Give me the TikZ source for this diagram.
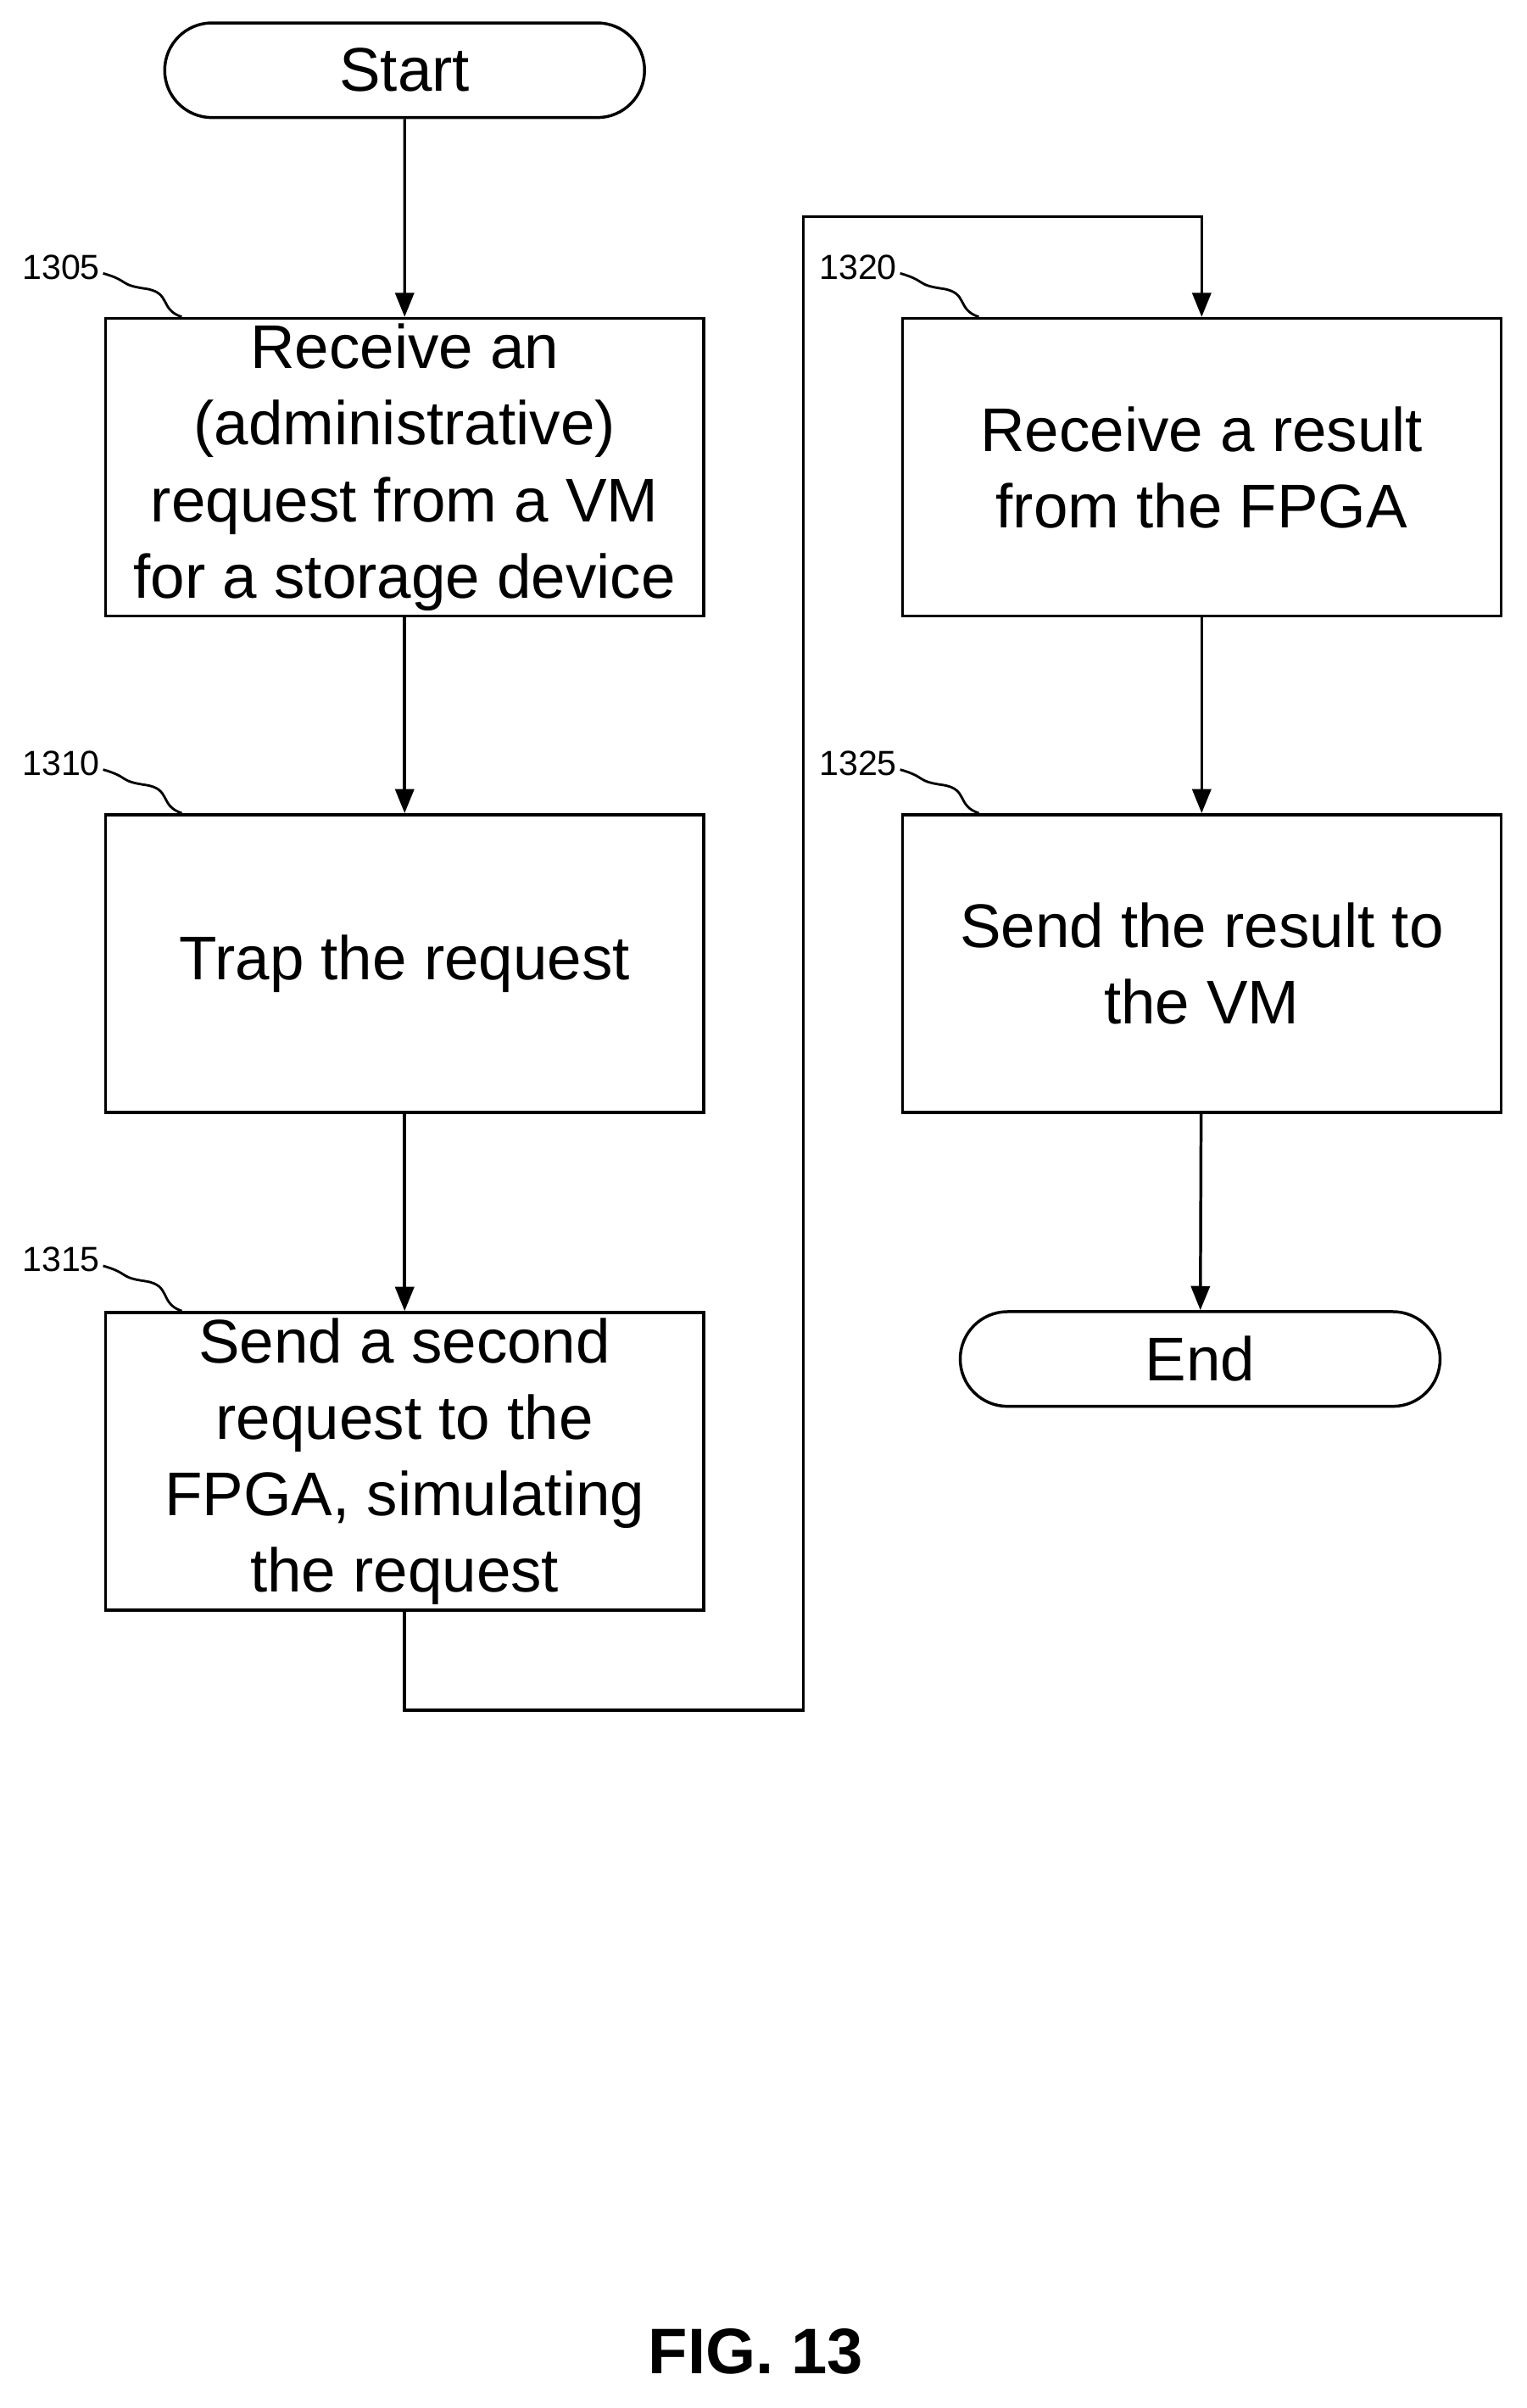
\documentclass[tikz,border=0pt]{standalone}
\usepackage{fontspec}
\setmainfont{Liberation Sans}
\usetikzlibrary{arrows.meta,positioning,calc,shapes.misc}

\tikzset{
  box/.style={draw, line width=1.1pt, minimum width=7.84cm, minimum height=3.9cm,
    align=center, font=\fontsize{23}{28.5}\selectfont, inner sep=2pt},
  term/.style={draw, line width=1.1pt, rounded rectangle, minimum width=6.52cm,
    minimum height=1.24cm, font=\fontsize{23}{28.5}\selectfont},
  num/.style={font=\fontsize{13}{15}\selectfont, inner sep=1pt},
  flow/.style={line width=1.1pt, -{Triangle[length=9pt,width=7pt]}},
  wave/.style={line width=0.9pt}
}

\begin{document}
\begin{tikzpicture}
\useasboundingbox (0,0) rectangle (20,-31.54);

% left column
\node[term] (start) at (5.3,-0.92) {Start};
\node[box] (s1305) at (5.3,-6.12) {Receive an\\(administrative)\\request from a VM\\for a storage device};
\node[box] (s1310) at (5.3,-12.62) {Trap the request};
\node[box] (s1315) at (5.3,-19.14) {Send a second\\request to the\\FPGA, simulating\\the request};

% right column
\node[box] (s1320) at (15.74,-6.12) {Receive a result\\from the FPGA};
\node[box] (s1325) at (15.74,-12.62) {Send the result to\\the VM};
\node[term] (end) at (15.72,-17.8) {End};

% reference numbers
\node[num] (l1305) at (0.8,-3.5) {1305};
\node[num] (l1310) at (0.8,-10.0) {1310};
\node[num] (l1315) at (0.8,-16.5) {1315};
\node[num] (l1320) at (11.24,-3.5) {1320};
\node[num] (l1325) at (11.24,-10.0) {1325};

\foreach \n in {1305,1310,1315,1320,1325}
  \draw[wave] (l\n.east) ++(0,-0.08) .. controls +(0.35,-0.1) and +(-0.35,0.05) .. +(0.55,-0.2)
    .. controls +(0.35,-0.05) and +(-0.3,0.1) .. ($(s\n.north west)+(1.02,0)$);

% connectors
\coordinate (c1) at (5.3,-22.4);
\coordinate (c2) at (10.52,-22.4);
\coordinate (c3) at (10.52,-2.84);
\coordinate (c4) at (15.74,-2.84);
\draw[flow] (start) -- (s1305);
\draw[flow] (s1305) -- (s1310);
\draw[flow] (s1310) -- (s1315);
\draw[flow] (s1315.south) -- (c1) -- (c2) -- (c3) -- (c4) -- (s1320.north);
\draw[flow] (s1320) -- (s1325);
\draw[flow] (s1325) -- (end);

\node[font=\bfseries\fontsize{24}{28}\selectfont] (fig) at (9.9,-30.8) {FIG. 13};
\end{tikzpicture}
\end{document}
